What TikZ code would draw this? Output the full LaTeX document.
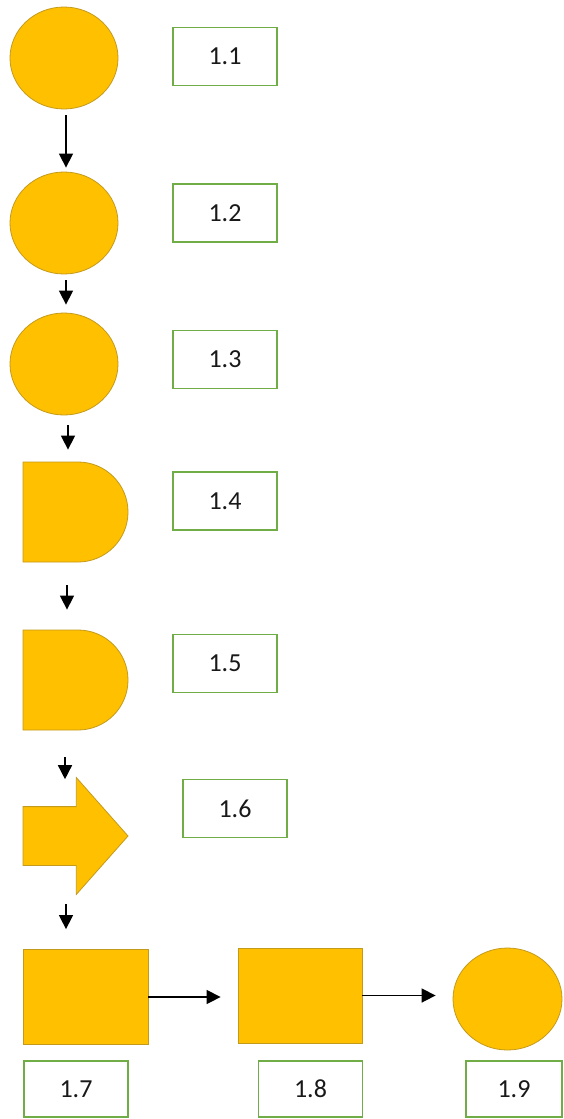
\documentclass[tikz,border=0pt]{standalone}
\usepackage{fontspec}
\setmainfont{Carlito}
\usepackage{xcolor}
\definecolor{gold}{HTML}{FFC000}
\definecolor{golddark}{HTML}{C49A1C}
\definecolor{boxgreen}{HTML}{70AD47}
\usetikzlibrary{positioning,shapes.geometric,shapes.misc,shapes.arrows,arrows.meta}

\begin{document}
\begin{tikzpicture}[x=1pt,y=-1pt,
    blob/.style={fill=gold,draw=golddark,line width=0.8pt,inner sep=0pt},
    disc/.style={blob,ellipse,minimum width=108pt,minimum height=102pt},
    halfdisc/.style={blob,rounded rectangle,rounded rectangle west arc=none,
      minimum width=105pt,minimum height=100pt},
    block/.style={blob,rectangle,minimum width=125pt,minimum height=95pt},
    tag/.style={draw=boxgreen,line width=1.3pt,fill=white,minimum width=104pt,
      minimum height=58pt,inner sep=0pt,text=black!90,font=\fontsize{26}{30}\selectfont},
    flow/.style={-{Triangle[length=14pt,width=14pt]},line width=1.5pt}]
    \useasboundingbox (0,0) rectangle (563,1119);

    \node[disc] (c1) at (64,58) {};
    \node[disc] (c2) at (64,223) {};
    \node[disc] (c3) at (64,364) {};
    \node[halfdisc] (d4) at (75.5,512) {};
    \node[halfdisc] (d5) at (75.5,680) {};
    \node[blob,single arrow,inner xsep=0pt,inner ysep=29pt,minimum height=105pt,
      single arrow head extend=29pt,single arrow tip angle=97] (a6) at (62.5,836) {};
    \node[block] (r7) at (85.5,997) {};
    \node[block,minimum width=124pt] (r8) at (300,995.5) {};
    \node[disc,minimum width=109pt] (c9) at (507.5,999) {};

    % labels
    \node[tag] (l1) at (225,56.5) {1.1};
    \node[tag] (l2) at (225,213) {1.2};
    \node[tag] (l3) at (225,359.5) {1.3};
    \node[tag] (l4) at (225,501) {1.4};
    \node[tag] (l5) at (225,663.5) {1.5};
    \node[tag] (l6) at (235,808.5) {1.6};
    \node[tag,minimum height=56pt] (l7) at (76,1089) {1.7};
    \node[tag,minimum height=56pt] (l8) at (310.5,1089) {1.8};
    \node[tag,minimum height=56pt,minimum width=96pt] (l9) at (514,1089) {1.9};

    % vertical chain
    \draw[flow,shorten <=6pt,shorten >=4pt] ([xshift=2pt]c1.south) -- ([xshift=2pt]c2.north);
    \draw[flow,shorten <=6pt,shorten >=8pt] ([xshift=2pt]c2.south) -- ([xshift=2pt]c3.north);
    \draw[flow,shorten <=10pt,shorten >=12pt] ([xshift=4pt]c3.south) -- ([xshift=4pt]c3.south |- d4.north);
    \draw[flow,shorten <=23pt,shorten >=20pt] (d4.south -| 67,0) -- (d5.north -| 67,0);
    \draw[flow,shorten <=27pt,shorten >=27pt] (d5.south -| 65,0) -- (a6.north -| 65,0);
    \draw[flow,shorten <=38pt,shorten >=20pt] (a6.south -| 66,0) -- (r7.north -| 66,0);

    % bottom row
    \draw[flow,shorten >=17pt] (r7.east) -- (r7.east -| r8.west);
    \draw[flow,shorten >=17pt] (r8.east) -- (r8.east -| c9.west);
\end{tikzpicture}
\end{document}
